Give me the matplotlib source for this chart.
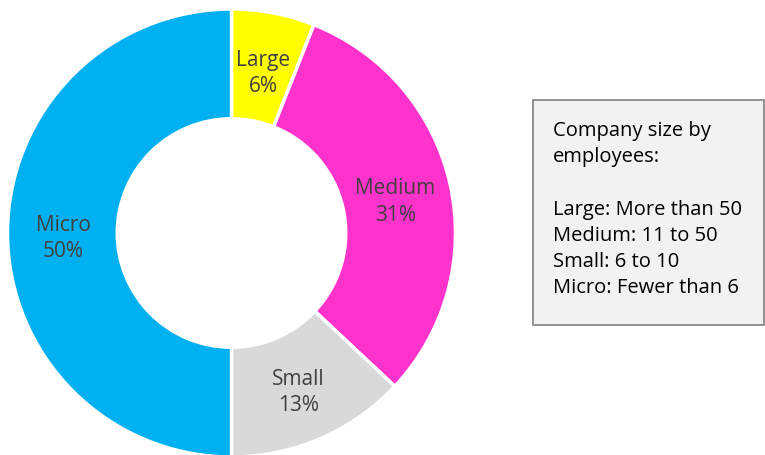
import matplotlib
matplotlib.use("Agg")
import matplotlib.pyplot as plt
from matplotlib.patches import Rectangle
import numpy as np

categories = ["Large", "Medium", "Small", "Micro"]
shares = [6, 31, 13, 50]
colors = ["#FFFF00", "#FF33CC", "#D9D9D9", "#00B0F0"]
box_lines = ["Company size by", "employees:", "", "Large: More than 50",
             "Medium: 11 to 50", "Small: 6 to 10", "Micro: Fewer than 6"]

plt.rcParams['font.family'] = ['Open Sans', 'DejaVu Sans']

W, H = 765, 456
fig = plt.figure(figsize=(W / 100, H / 100), dpi=100)
cx, cy, R = 231.5, 234, 224
ax = fig.add_axes([(cx - R) / W, (H - cy - R) / H, 2 * R / W, 2 * R / H])
wedges, _ = ax.pie(shares, colors=colors, startangle=90, counterclock=False,
                   radius=1, wedgeprops=dict(width=0.49, edgecolor="white", linewidth=2.5))
for w in wedges:
    w.set_clip_on(False)
ax.set_xlim(-1, 1)
ax.set_ylim(-1, 1)
ax.axis("off")

cum = np.cumsum([0] + shares)
for i, (cat, s) in enumerate(zip(categories, shares)):
    mid = 90 - (cum[i] + s / 2) / 100 * 360
    r = 0.75
    x, y = r * np.cos(np.radians(mid)), r * np.sin(np.radians(mid)) - 0.02
    ax.text(x, y, f"{cat}\n{s}%", ha="center", va="center", fontsize=15,
            color="#404040", linespacing=1.35)

# info box
bx0, by0, bx1, by1 = 533, 101, 764, 326
fig.patches.append(Rectangle((bx0 / W, 1 - by1 / H), (bx1 - bx0) / W, (by1 - by0) / H,
                             transform=fig.transFigure, facecolor="#F2F2F2",
                             edgecolor="#808080", linewidth=1.2, zorder=0))
y0 = 131
for j, line in enumerate(box_lines):
    fig.text(553 / W, 1 - (y0 + j * 26.2) / H, line, ha="left", va="center",
             fontsize=14.5, color="#000000")

fig.savefig("out.png", dpi=100)
